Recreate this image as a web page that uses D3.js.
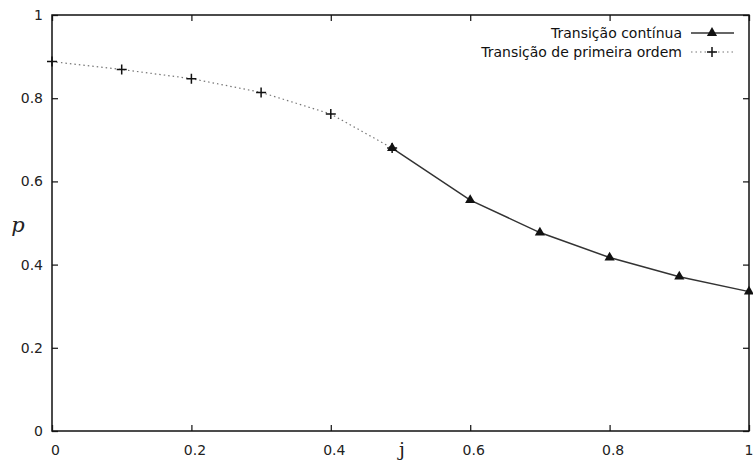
<!DOCTYPE html>
<html lang="pt">
<head>
<meta charset="UTF-8">
<title>p vs j</title>
<style>
  body { margin: 0; background: #fff; }
  .tick text { font: 14px "DejaVu Sans", sans-serif; fill: #222; }
  .legend text { font: 14px "DejaVu Sans", sans-serif; fill: #111; }
</style>
</head>
<body>
<script src="https://d3js.org/d3.v7.min.js"></script>
<script>
// transição contínua (linha cheia, triângulos)
const contJ = [0.488, 0.6, 0.7, 0.8, 0.9, 1.0];
const contP = [0.680, 0.555, 0.477, 0.417, 0.371, 0.335];

// transição de primeira ordem (pontilhada, cruzes)
const firstJ = [0, 0.1, 0.2, 0.3, 0.4, 0.488];
const firstP = [0.888, 0.869, 0.847, 0.814, 0.762, 0.680];

const xTicks = [0, 0.2, 0.4, 0.6, 0.8, 1];
const yTicks = [0, 0.2, 0.4, 0.6, 0.8, 1];
const xTickLabels = ["0", "0.2", "0.4", "0.6", "0.8", "1"];
const yTickLabels = ["0", "0.2", "0.4", "0.6", "0.8", "1"];

const legendNames = ["Transição contínua", "Transição de primeira ordem"];

const W = 753, H = 461;
const margin = {top: 15, right: 4, bottom: 30, left: 52};
const w = W - margin.left - margin.right;
const h = H - margin.top - margin.bottom;

const svg = d3.select("body").append("svg")
    .attr("width", W)
    .attr("height", H);

const g = svg.append("g")
    .attr("transform", "translate(" + margin.left + "," + margin.top + ")");

const x = d3.scaleLinear().domain([0, 1]).range([0, w]);
const y = d3.scaleLinear().domain([0, 1]).range([h, 0]);

// eixos com ticks para dentro (estilo gnuplot)
const tk = 6;
g.append("g")
    .attr("transform", "translate(0," + h + ")")
    .call(d3.axisBottom(x).tickValues(xTicks).tickSizeInner(-tk).tickSizeOuter(0).tickPadding(14)
        .tickFormat((d, i) => xTickLabels[i]))
    .call(a => a.select(".domain").remove())
    .call(a => a.selectAll(".tick text").attr("dx", 3))
    // o último rótulo fica colado à borda direita
    .call(a => a.selectAll(".tick text").filter(d => d === 1).attr("text-anchor", "end").attr("dx", 4));

g.append("g")
    .call(d3.axisTop(x).tickValues(xTicks).tickSizeInner(-tk).tickSizeOuter(0).tickFormat(""))
    .call(a => a.select(".domain").remove());

g.append("g")
    .call(d3.axisLeft(y).tickValues(yTicks).tickSizeInner(-tk).tickSizeOuter(0).tickPadding(9)
        .tickFormat((d, i) => yTickLabels[i]))
    .call(a => a.select(".domain").remove());

g.append("g")
    .attr("transform", "translate(" + w + ",0)")
    .call(d3.axisRight(y).tickValues(yTicks).tickSizeInner(-tk).tickSizeOuter(0).tickFormat(""))
    .call(a => a.select(".domain").remove());

g.selectAll(".tick line").attr("stroke", "#222").attr("stroke-width", 1.3);

g.append("rect")
    .attr("width", w)
    .attr("height", h)
    .attr("fill", "none")
    .attr("stroke", "#111")
    .attr("stroke-width", 1.5);

// rótulos dos eixos
svg.append("text")
    .attr("x", 18).attr("y", 232)
    .attr("text-anchor", "middle")
    .style("font", "italic 21px 'DejaVu Serif', serif")
    .attr("fill", "#222")
    .text("p");

svg.append("text")
    .attr("x", 402).attr("y", 456)
    .attr("text-anchor", "middle")
    .style("font", "19px 'DejaVu Serif', serif")
    .attr("fill", "#222")
    .text("j");

const line = d3.line().x(d => x(d[0])).y(d => y(d[1]));
const firstData = firstJ.map((j, i) => [j, firstP[i]]);
const contData = contJ.map((j, i) => [j, contP[i]]);

g.append("path")
    .datum(firstData)
    .attr("d", line)
    .attr("fill", "none")
    .attr("stroke", "#777")
    .attr("stroke-width", 1.2)
    .attr("stroke-dasharray", "1.5,3");

g.append("path")
    .datum(contData)
    .attr("d", line)
    .attr("fill", "none")
    .attr("stroke", "#333")
    .attr("stroke-width", 1.5);

function plus(sel, cx, cy) {
    sel.append("path")
        .attr("d", `M${cx - 5},${cy}H${cx + 5}M${cx},${cy - 5}V${cy + 5}`)
        .attr("stroke", "#111")
        .attr("stroke-width", 1.5)
        .attr("fill", "none");
}
const tri = d3.symbol().type(d3.symbolTriangle).size(45);

firstData.forEach(d => plus(g, x(d[0]), y(d[1])));

g.selectAll(".tri")
    .data(contData)
    .join("path")
    .attr("class", "tri")
    .attr("transform", d => "translate(" + x(d[0]) + "," + y(d[1]) + ")")
    .attr("d", tri)
    .attr("fill", "#111");

// legenda
const leg = svg.append("g").attr("class", "legend");
const ly = [33, 52];
legendNames.forEach((name, i) => {
    leg.append("text")
        .attr("x", 682).attr("y", ly[i])
        .attr("dy", "0.35em")
        .attr("text-anchor", "end")
        .text(name);
    leg.append("line")
        .attr("x1", 691).attr("x2", 734)
        .attr("y1", ly[i]).attr("y2", ly[i])
        .attr("stroke", i === 0 ? "#333" : "#777")
        .attr("stroke-width", i === 0 ? 1.5 : 1.2)
        .attr("stroke-dasharray", i === 0 ? null : "1.5,3");
    if (i === 0) {
        leg.append("path")
            .attr("transform", "translate(712," + ly[i] + ")")
            .attr("d", tri)
            .attr("fill", "#111");
    } else {
        plus(leg, 712, ly[i]);
    }
});
</script>
</body>
</html>
